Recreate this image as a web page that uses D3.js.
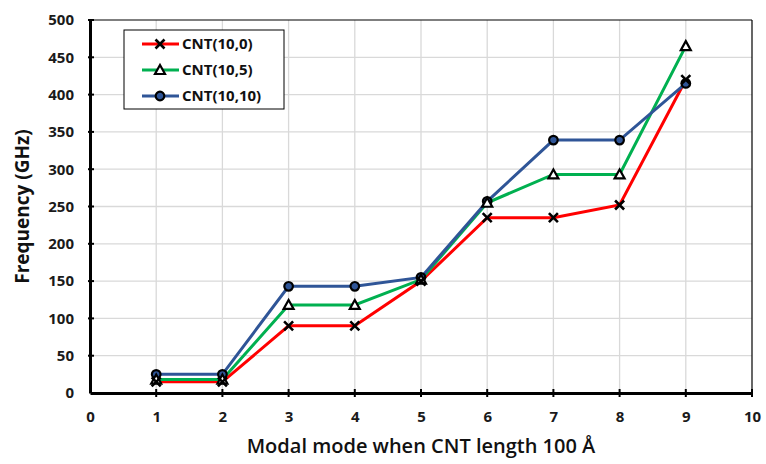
<!DOCTYPE html>
<html>
<head>
<meta charset="utf-8">
<script src="https://cdn.jsdelivr.net/npm/d3@7"></script>
<style>
  body { margin: 0; background: #fff; }
  text { font-family: "Open Sans", "Noto Sans", sans-serif; }
</style>
</head>
<body>
<div id="chart"></div>
<script>
// data
var modes = [1, 2, 3, 4, 5, 6, 7, 8, 9];
var cnt100 = [15, 15, 90, 90, 150, 235, 235, 252, 420];
var cnt105 = [18, 18, 118, 118, 152, 255, 293, 293, 465];
var cnt1010 = [25, 25, 143, 143, 155, 257, 339, 339, 415];
var seriesNames = ['CNT(10,0)', 'CNT(10,5)', 'CNT(10,10)'];
var xTicks = [0, 1, 2, 3, 4, 5, 6, 7, 8, 9, 10];
var yTicks = [0, 50, 100, 150, 200, 250, 300, 350, 400, 450, 500];

var series = [
  {name: seriesNames[0], values: cnt100, color: '#ff0000', marker: 'cross'},
  {name: seriesNames[1], values: cnt105, color: '#00b050', marker: 'triangle'},
  {name: seriesNames[2], values: cnt1010, color: '#2f5597', marker: 'circle'}
];

var w = 766, h = 464;
var margin = {top: 20, right: 14, bottom: 71, left: 90};
var innerW = w - margin.left - margin.right,
    innerH = h - margin.top - margin.bottom;

var svg = d3.select('#chart').append('svg')
  .attr('width', w)
  .attr('height', h);
var g = svg.append('g')
  .attr('transform', 'translate(' + [margin.left, margin.top] + ')');

var x = d3.scaleLinear().domain([0, 10]).range([0, innerW]);
var y = d3.scaleLinear().domain([0, 500]).range([innerH, 0]);

// grid
g.selectAll('line.vgrid').data(xTicks.slice(1, -1)).enter().append('line')
  .attr('class', 'vgrid')
  .attr('x1', function(d) { return x(d); }).attr('x2', function(d) { return x(d); })
  .attr('y1', 0).attr('y2', innerH)
  .attr('stroke', '#d9d9d9').attr('stroke-width', 1.3);
g.selectAll('line.hgrid').data(yTicks.slice(1, -1)).enter().append('line')
  .attr('class', 'hgrid')
  .attr('x1', 0).attr('x2', innerW)
  .attr('y1', function(d) { return y(d); }).attr('y2', function(d) { return y(d); })
  .attr('stroke', '#d9d9d9').attr('stroke-width', 1.3);

// frame (top / right thin)
g.append('line').attr('x1', 0).attr('x2', innerW).attr('y1', 0).attr('y2', 0)
  .attr('stroke', '#000').attr('stroke-width', 1.2);
g.append('line').attr('x1', innerW).attr('x2', innerW).attr('y1', 0).attr('y2', innerH)
  .attr('stroke', '#000').attr('stroke-width', 1.2);

// axes
var xAxis = d3.axisBottom(x).tickValues(xTicks).tickSize(0).tickPadding(18);
var yAxis = d3.axisLeft(y).tickValues(yTicks).tickSize(0).tickPadding(16);

var gx = g.append('g').attr('class', 'x axis')
  .attr('transform', 'translate(0,' + innerH + ')')
  .call(xAxis);
var gy = g.append('g').attr('class', 'y axis').call(yAxis);

[gx, gy].forEach(function(a) {
  a.select('.domain').attr('stroke', '#000').attr('stroke-width', 3);
  a.selectAll('text')
    .attr('font-size', 15).attr('font-weight', 'bold').attr('fill', '#1a1a1a');
});
gx.selectAll('text').attr('dy', '0.71em');

// small tick stubs crossing the axes
g.selectAll('line.xtick').data(xTicks.slice(1)).enter().append('line')
  .attr('class', 'xtick')
  .attr('x1', function(d) { return x(d); }).attr('x2', function(d) { return x(d); })
  .attr('y1', innerH - 4).attr('y2', innerH + 4)
  .attr('stroke', '#000').attr('stroke-width', 2);
g.selectAll('line.ytick').data(yTicks.slice(1)).enter().append('line')
  .attr('class', 'ytick')
  .attr('x1', -2).attr('x2', 4)
  .attr('y1', function(d) { return y(d); }).attr('y2', function(d) { return y(d); })
  .attr('stroke', '#000').attr('stroke-width', 2);

// lines
var line = d3.line()
  .x(function(d, i) { return x(modes[i]); })
  .y(function(d) { return y(d); });

g.selectAll('path.series').data(series).enter().append('path')
  .attr('class', 'series')
  .attr('fill', 'none')
  .attr('stroke', function(d) { return d.color; })
  .attr('stroke-width', 3)
  .attr('d', function(d) { return line(d.values); });

// markers
function drawMarker(sel, type, color) {
  if (type === 'cross') {
    sel.append('path').attr('d', 'M-4.5,-4.5L4.5,4.5M-4.5,4.5L4.5,-4.5')
      .attr('stroke', '#000').attr('stroke-width', 2.6).attr('fill', 'none');
  } else if (type === 'triangle') {
    sel.append('path').attr('d', 'M0,-5L5,4L-5,4Z')
      .attr('stroke', '#000').attr('stroke-width', 2.2).attr('fill', '#fff');
  } else {
    sel.append('circle').attr('r', 4.3)
      .attr('stroke', '#000').attr('stroke-width', 2.2).attr('fill', color);
  }
}

series.slice().reverse().forEach(function(s) {
  s.values.forEach(function(v, i) {
    var m = g.append('g')
      .attr('transform', 'translate(' + [x(modes[i]), y(v)] + ')');
    drawMarker(m, s.marker, s.color);
  });
});

// legend
var legend = svg.append('g').attr('transform', 'translate(124,30)');
legend.append('rect')
  .attr('width', 160).attr('height', 79)
  .attr('fill', '#fff').attr('stroke', '#000').attr('stroke-width', 1);
var item = legend.selectAll('g.item').data(series).enter().append('g')
  .attr('class', 'item')
  .attr('transform', function(d, i) { return 'translate(0,' + (14 + i * 26) + ')'; });
item.append('line')
  .attr('x1', 18).attr('x2', 55).attr('y1', 0).attr('y2', 0)
  .attr('stroke', function(d) { return d.color; }).attr('stroke-width', 3);
item.each(function(d) {
  var m = d3.select(this).append('g').attr('transform', 'translate(36,0)');
  drawMarker(m, d.marker, d.color);
});
item.append('text')
  .attr('x', 58).attr('y', 0).attr('dy', '0.35em')
  .attr('font-size', 15).attr('font-weight', 'bold').attr('fill', '#111')
  .text(function(d) { return d.name; });

// axis titles
svg.append('text')
  .attr('x', margin.left + innerW / 2).attr('y', 453)
  .attr('text-anchor', 'middle')
  .attr('font-size', 20).attr('font-weight', 600).attr('fill', '#111')
  .text('Modal mode when CNT length 100 Å');
svg.append('text')
  .attr('transform', 'translate(29,' + (margin.top + innerH / 2) + ') rotate(-90)')
  .attr('text-anchor', 'middle')
  .attr('font-size', 19).attr('font-weight', 'bold').attr('fill', '#111')
  .text('Frequency (GHz)');
</script>
</body>
</html>
